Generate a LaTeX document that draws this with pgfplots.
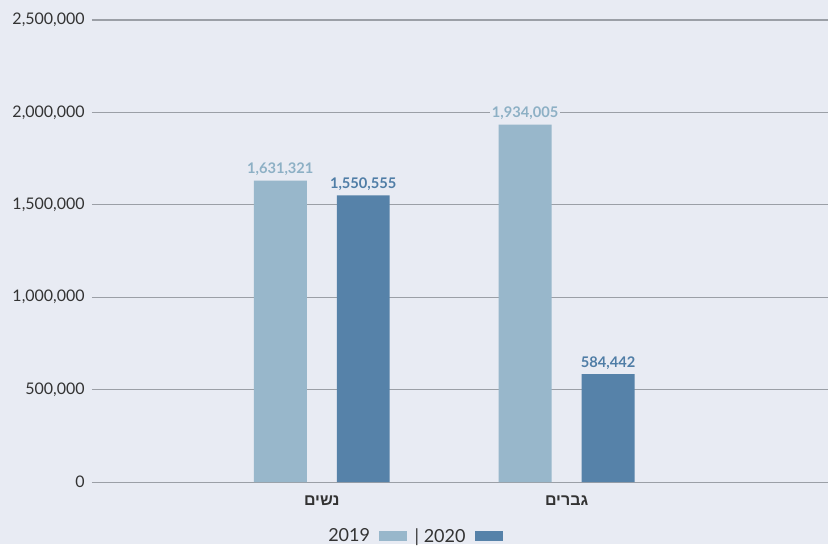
\documentclass[border=0pt]{standalone}
\usepackage{pgfplots}
\pgfplotsset{compat=1.18}
\usepackage{fontspec}
\setmainfont{Lato}
\newfontfamily\hebfont[Script=Hebrew]{Liberation Sans}
\TeXXeTstate=1
\definecolor{bg}{HTML}{E8EBF3}
\definecolor{lightc}{HTML}{98B7CB}
\definecolor{darkc}{HTML}{5682A9}
\definecolor{gridc}{HTML}{9B9FA6}
\definecolor{lightlbl}{HTML}{8DB0C5}
\definecolor{darklbl}{HTML}{4F7DA6}
\definecolor{tickc}{HTML}{333333}
\pgfkeys{/pgf/number format/.cd,1000 sep={,},fixed,precision=0,assume math mode=true}
\pgfplotsset{boxlegend/.style={legend image code/.code={\draw[##1,/tikz/.cd,draw=none] (0pt,-3.75pt) rectangle (21pt,3.75pt);}}}
\begin{document}
\begin{tikzpicture}
\fill[bg] (0,0) rectangle (621.75pt,408pt);
\begin{axis}[
  at={(69pt,46.125pt)}, anchor=south west,
  scale only axis, width=552.75pt, height=346.875pt,
  ybar=22.5pt, bar width=39.75pt,
  xmin=-0.9388, xmax=2.0694, ymin=0, ymax=2500000,
  xtick={0,1},
  xticklabels={{\hebfont\bfseries\beginR נשים\endR},{\hebfont\bfseries\beginR גברים\endR}},
  ytick={0,500000,1000000,1500000,2000000,2500000},
  scaled y ticks=false,
  axis line style={draw=none},
  major tick length=0pt,
  ymajorgrids, grid style={draw=gridc, line width=0.9pt},
  yticklabel style={font=\fontsize{12}{14}\selectfont, text=tickc, inner sep=0pt, xshift=-5.25pt},
  xticklabel style={font=\fontsize{12}{14}\selectfont, text=tickc, inner sep=0pt, yshift=-10pt},
  legend style={at={(0.4376,-0.1175)}, anchor=center, draw=none, fill=none,
    legend columns=2, font=\fontsize{13.5}{15}\selectfont, text=tickc,
    /tikz/every even column/.append style={column sep=3.5pt},
    /tikz/every odd column/.append style={column sep=5pt}},
  legend plot pos=right,
  legend cell align=left,
]
\addplot[fill=lightc, draw=none, boxlegend,
  nodes near coords,
  every node near coord/.append style={text=lightlbl, fill=bg, font=\fontsize{11}{13}\selectfont\bfseries, inner sep=1.5pt, yshift=2pt}]
  coordinates {(0,1631321) (1,1934005)};
\addplot[fill=darkc, draw=none, boxlegend,
  nodes near coords,
  every node near coord/.append style={text=darklbl, fill=bg, font=\fontsize{11}{13}\selectfont\bfseries, inner sep=1.5pt, yshift=2pt}]
  coordinates {(0,1550555) (1,584442)};
\legend{2019, {| 2020}}
\end{axis}
\end{tikzpicture}
\end{document}
